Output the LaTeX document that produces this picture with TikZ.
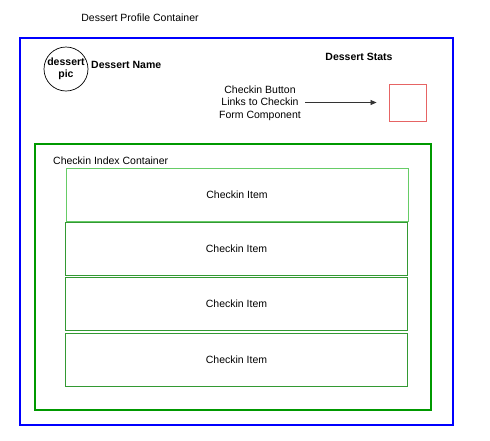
\documentclass[tikz,border=0pt]{standalone}
\usepackage{fontspec}
\setmainfont{Liberation Sans}
\usetikzlibrary{arrows.meta,positioning}
\definecolor{profileblue}{RGB}{0,0,255}
\definecolor{indexgreen}{RGB}{0,153,0}
\definecolor{itemgreen}{RGB}{51,153,51}
\definecolor{itemlight}{RGB}{102,204,102}
\definecolor{btnred}{RGB}{230,100,100}

\begin{document}
\begin{tikzpicture}[x=1pt, y=-1pt,
  every node/.style={font=\fontsize{10.5}{12.5}\selectfont, inner sep=0pt},
  container/.style={draw, line width=1.6pt, minimum width=#1},
  itembox/.style={draw=itemgreen, line width=0.9pt, minimum width=342pt, minimum height=53pt},
  boldlabel/.style={font=\fontsize{10.5}{12}\selectfont\bfseries}]
\useasboundingbox (0,0) rectangle (490,440);

% Contenitore profilo
\node[container=433pt, draw=profileblue, minimum height=387pt] (profile) at (236.5,231.5) {};
\node (profiletitle) at (140,18) {Dessert Profile Container};

% Foto e nome
\node[draw, circle, line width=0.7pt, minimum size=44pt, boldlabel, align=center] (pic) at (66,69) {dessert\\pic};
\node[boldlabel, anchor=west] (name) at (91,65) {Dessert Name};
\node[boldlabel] (stats) at (359,57) {Dessert Stats};

% Pulsante checkin
\node[align=center] (btntext) at (260,103) {Checkin Button\\Links to Checkin\\Form Component};
\node[draw=btnred, line width=0.9pt, minimum size=37pt] (btn) at (407.5,102.5) {};
\draw[-{Triangle[length=6pt,width=5pt]}, line width=0.7pt, black!80, shorten <=4pt, shorten >=12pt] (btntext.east |- btn.west) -- (btn.west);

% Contenitore indice checkin
\node[container=396pt, draw=indexgreen, minimum height=266pt] (index) at (233,277) {};
\node[anchor=west] (indextitle) at (53,161) {Checkin Index Container};

% Elementi checkin
\node[itembox, draw=itemlight] (item1) at (237,194.5) {Checkin Item};
\foreach \n/\y in {2/248.5, 3/303.5, 4/360}{
  \node[itembox] (item\n) at (236.5,\y) {Checkin Item};
}

\end{tikzpicture}
\end{document}
